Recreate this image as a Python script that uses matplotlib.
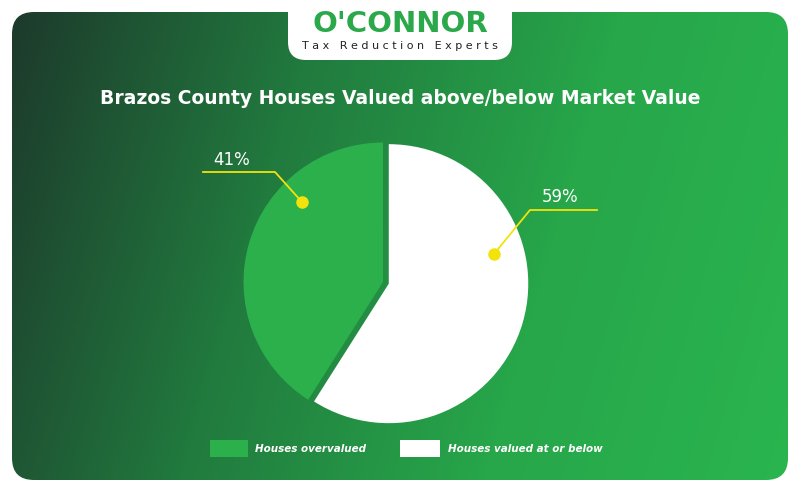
import numpy as np
import matplotlib
matplotlib.use("Agg")
import matplotlib.pyplot as plt
from matplotlib.patches import FancyBboxPatch, Rectangle
from matplotlib.colors import LinearSegmentedColormap

labels = ["Houses overvalued", "Houses valued at or below"]
shares = [41, 59]
colors = ["#2bb04c", "#ffffff"]
YEL = "#f2e30c"

W, H = 800, 492
fig = plt.figure(figsize=(8, 4.92), dpi=100, facecolor="white")
bg = fig.add_axes([0, 0, 1, 1])
bg.set_xlim(0, W)
bg.set_ylim(H, 0)
bg.axis("off")

# gradient card
cmap = LinearSegmentedColormap.from_list("g", ["#1d3a2c", "#217a3e", "#27a64a", "#2ab54f"])
xx, yy = np.meshgrid(np.linspace(0, 1, 300), np.linspace(0, 1, 200))
grad = np.clip(xx * 0.85 + yy * 0.15, 0, 1)
im = bg.imshow(grad, cmap=cmap, extent=[12, 788, 480, 12], aspect="auto", zorder=1)
card = FancyBboxPatch((12, 12), 776, 468, boxstyle="round,pad=0,rounding_size=22",
                      transform=bg.transData, facecolor="none", edgecolor="none")
bg.add_patch(card)
im.set_clip_path(card)

# logo tab
bg.add_patch(FancyBboxPatch((288, -20), 224, 80, boxstyle="round,pad=0,rounding_size=18",
                            facecolor="white", edgecolor="none", zorder=3))
bg.text(400, 24, "O'CONNOR", ha="center", va="center", fontsize=21, fontweight="bold",
        color="#2aa84a", zorder=4, family="DejaVu Sans")
bg.text(400, 46, "T a x   R e d u c t i o n   E x p e r t s", ha="center", va="center",
        fontsize=8, color="#222222", zorder=4)

bg.text(400, 99, "Brazos County Houses Valued above/below Market Value", ha="center",
        va="center", fontsize=13.5, fontweight="bold", color="white", zorder=4)

# pie
cx, cy, r = 383, 282, 150
pax = fig.add_axes([(cx - r) / W, (H - cy - r) / H, 2 * r / W, 2 * r / H])
pax.pie(shares, colors=colors, startangle=90, counterclock=True, radius=0.93,
        explode=[0, 0.04], wedgeprops=dict(linewidth=0))
pax.set_xlim(-1, 1)
pax.set_ylim(-1, 1)
pax.set_aspect("equal")
pax.set_zorder(5)

fg = fig.add_axes([0, 0, 1, 1], facecolor="none")
fg.set_xlim(0, W)
fg.set_ylim(H, 0)
fg.axis("off")
fg.set_zorder(6)
fg.plot([302, 275, 203], [202, 172, 172], color=YEL, lw=1.3)
fg.plot([302], [202], "o", color=YEL, ms=8)
fg.text(232, 160, f"{shares[0]}%", ha="center", va="center", fontsize=12, color="white")
fg.plot([494, 530, 597], [254, 210, 210], color=YEL, lw=1.3)
fg.plot([494], [254], "o", color=YEL, ms=8)
fg.text(560, 197, f"{shares[1]}%", ha="center", va="center", fontsize=12, color="white")

# legend
fg.add_patch(Rectangle((210, 440), 38, 17, facecolor=colors[0], edgecolor="none"))
fg.text(255, 449, labels[0], ha="left", va="center", fontsize=7.5, fontstyle="italic",
        fontweight="bold", color="white")
fg.add_patch(Rectangle((400, 440), 40, 17, facecolor=colors[1], edgecolor="none"))
fg.text(448, 449, labels[1], ha="left", va="center", fontsize=7.5, fontstyle="italic",
        fontweight="bold", color="white")

fig.savefig("out.png", dpi=100, facecolor="white")
